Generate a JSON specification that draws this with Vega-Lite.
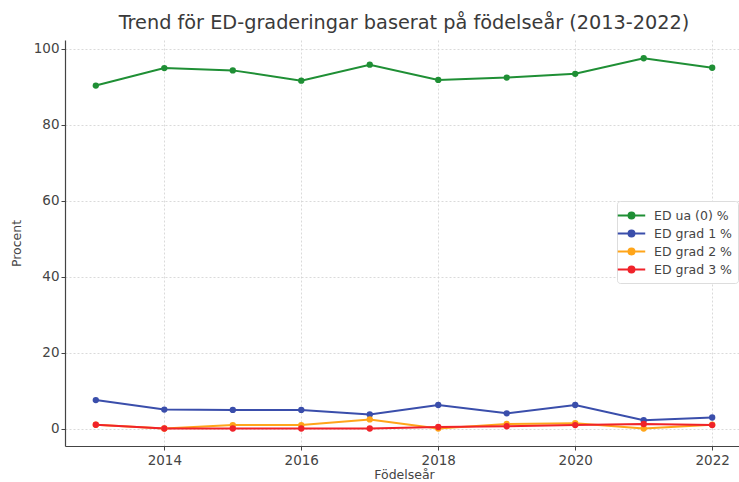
{
  "$schema": "https://vega.github.io/schema/vega-lite/v6.json",
  "autosize": {"type": "none"},
  "padding": {"left": 65, "top": 40, "right": 0, "bottom": 36},
  "width": 678,
  "height": 406,
  "background": "white",
  "title": {"text": "Trend för ED-graderingar baserat på födelseår (2013-2022)", "font": "DejaVu Sans", "fontSize": 19.3, "fontWeight": "normal", "color": "#3a3a3a", "offset": 7},
  "config": {
    "view": {"stroke": null},
    "axis": {"labelFont": "DejaVu Sans", "titleFont": "DejaVu Sans", "labelFontSize": 13.5, "titleFontSize": 12.5, "titleFontWeight": "normal", "labelColor": "#444444", "titleColor": "#444444", "domainColor": "#444444", "tickColor": "#444444", "gridColor": "#d0d0d0", "gridDash": [2, 2], "gridWidth": 0.8, "tickSize": 4, "domainWidth": 1.2}
  },
  "data": {"values": [
    {"year": 2013, "series": "ED ua (0) %", "value": 90.3},
    {"year": 2014, "series": "ED ua (0) %", "value": 94.9},
    {"year": 2015, "series": "ED ua (0) %", "value": 94.3},
    {"year": 2016, "series": "ED ua (0) %", "value": 91.6},
    {"year": 2017, "series": "ED ua (0) %", "value": 95.8},
    {"year": 2018, "series": "ED ua (0) %", "value": 91.8},
    {"year": 2019, "series": "ED ua (0) %", "value": 92.4},
    {"year": 2020, "series": "ED ua (0) %", "value": 93.4},
    {"year": 2021, "series": "ED ua (0) %", "value": 97.5},
    {"year": 2022, "series": "ED ua (0) %", "value": 95.0},
    {"year": 2013, "series": "ED grad 1 %", "value": 7.5},
    {"year": 2014, "series": "ED grad 1 %", "value": 5.0},
    {"year": 2015, "series": "ED grad 1 %", "value": 4.9},
    {"year": 2016, "series": "ED grad 1 %", "value": 4.9},
    {"year": 2017, "series": "ED grad 1 %", "value": 3.7},
    {"year": 2018, "series": "ED grad 1 %", "value": 6.2},
    {"year": 2019, "series": "ED grad 1 %", "value": 4.0},
    {"year": 2020, "series": "ED grad 1 %", "value": 6.2},
    {"year": 2021, "series": "ED grad 1 %", "value": 2.2},
    {"year": 2022, "series": "ED grad 1 %", "value": 2.9},
    {"year": 2013, "series": "ED grad 2 %", "value": 1.0},
    {"year": 2014, "series": "ED grad 2 %", "value": 0.0},
    {"year": 2015, "series": "ED grad 2 %", "value": 0.9},
    {"year": 2016, "series": "ED grad 2 %", "value": 0.9},
    {"year": 2017, "series": "ED grad 2 %", "value": 2.4},
    {"year": 2018, "series": "ED grad 2 %", "value": 0.0},
    {"year": 2019, "series": "ED grad 2 %", "value": 1.2},
    {"year": 2020, "series": "ED grad 2 %", "value": 1.4},
    {"year": 2021, "series": "ED grad 2 %", "value": 0.0},
    {"year": 2022, "series": "ED grad 2 %", "value": 1.0},
    {"year": 2013, "series": "ED grad 3 %", "value": 1.0},
    {"year": 2014, "series": "ED grad 3 %", "value": 0.0},
    {"year": 2015, "series": "ED grad 3 %", "value": 0.0},
    {"year": 2016, "series": "ED grad 3 %", "value": 0.0},
    {"year": 2017, "series": "ED grad 3 %", "value": 0.0},
    {"year": 2018, "series": "ED grad 3 %", "value": 0.4},
    {"year": 2019, "series": "ED grad 3 %", "value": 0.6},
    {"year": 2020, "series": "ED grad 3 %", "value": 0.9},
    {"year": 2021, "series": "ED grad 3 %", "value": 1.2},
    {"year": 2022, "series": "ED grad 3 %", "value": 0.9}
  ]},
  "mark": {"type": "line", "strokeWidth": 2, "point": {"filled": true, "size": 40}},
  "encoding": {
    "x": {"field": "year", "type": "quantitative", "title": "Födelseår",
      "scale": {"domain": [2012.55, 2022.45], "nice": false, "zero": false},
      "axis": {"values": [2014, 2016, 2018, 2020, 2022], "format": "d", "titlePadding": 2, "labelPadding": 3}},
    "y": {"field": "value", "type": "quantitative", "title": "Procent",
      "scale": {"domain": [-4.6, 102.3], "nice": false, "zero": false},
      "axis": {"values": [0, 20, 40, 60, 80, 100], "titlePadding": 10}},
    "color": {"field": "series", "type": "nominal", "title": null,
      "scale": {"domain": ["ED ua (0) %", "ED grad 1 %", "ED grad 2 %", "ED grad 3 %"], "range": ["#1f8f35", "#3a4eab", "#ffa51a", "#f0232a"]},
      "legend": {"orient": "none", "legendX": 552, "legendY": 161, "labelFont": "DejaVu Sans", "labelFontSize": 12.5, "labelColor": "#444444",
        "symbolType": "M-1.85,0H1.85M-0.4,0A0.4,0.4 0 1,0 0.4,0A0.4,0.4 0 1,0 -0.4,0", "symbolSize": 220, "symbolStrokeWidth": 2,
        "rowPadding": 2, "labelOffset": 14, "padding": 6, "strokeColor": "#dddddd", "fillColor": "white", "cornerRadius": 3}},
    "order": {"field": "year", "type": "quantitative"}
  }
}
